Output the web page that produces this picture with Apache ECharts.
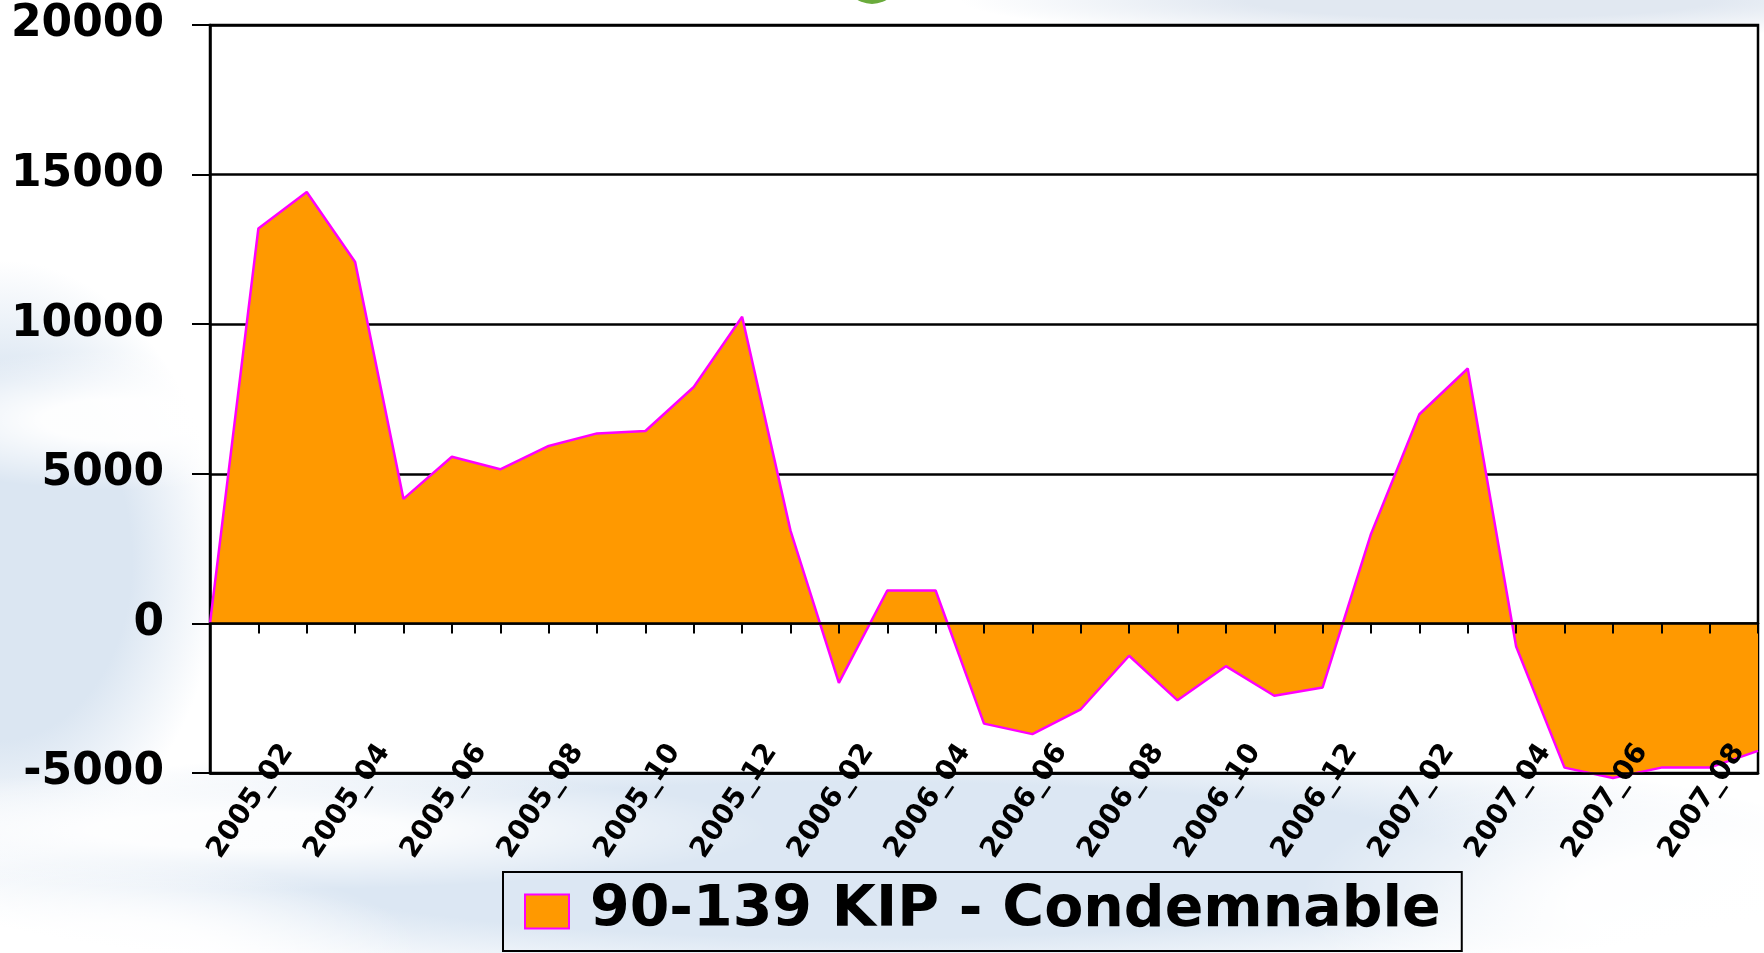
<!DOCTYPE html>
<html>
<head>
<meta charset="utf-8">
<script src="https://cdn.jsdelivr.net/npm/echarts@6/dist/echarts.min.js"></script>
<style>
html,body{margin:0;padding:0;width:1764px;height:953px;overflow:hidden;}
body{
  background-color:#ffffff;
  background-image:
    radial-gradient(ellipse 260px 70px at 120px 420px, rgba(255,255,255,0.95) 30%, rgba(255,255,255,0) 100%),
    radial-gradient(ellipse 520px 60px at 250px 830px, rgba(255,255,255,0.9) 30%, rgba(255,255,255,0) 100%),
    radial-gradient(ellipse 420px 140px at 1720px 900px, rgba(255,255,255,0.95) 35%, rgba(255,255,255,0) 100%),
    radial-gradient(ellipse 300px 90px at 120px 950px, rgba(255,255,255,0.85) 30%, rgba(255,255,255,0) 100%),
    radial-gradient(ellipse 220px 300px at 0px 560px, #dbe6f2 60%, rgba(219,230,242,0) 100%),
    radial-gradient(ellipse 1000px 130px at 860px 860px, #dce7f3 60%, rgba(220,231,243,0) 100%),
    radial-gradient(ellipse 520px 40px at 1480px 0px, #e1e8f1 45%, rgba(225,232,241,0) 100%);
}
#chart{width:1764px;height:953px;}
</style>
</head>
<body>
<div id="chart"></div>
<script>
var categories = ['2005_01','2005_02','2005_03','2005_04','2005_05','2005_06','2005_07','2005_08','2005_09','2005_10','2005_11','2005_12',
                  '2006_01','2006_02','2006_03','2006_04','2006_05','2006_06','2006_07','2006_08','2006_09','2006_10','2006_11','2006_12',
                  '2007_01','2007_02','2007_03','2007_04','2007_05','2007_06','2007_07','2007_08','2007_09'];
var values = [0, 13200, 14420, 12080, 4160, 5570, 5150, 5930, 6350, 6430, 7900, 10250,
              3100, -1990, 1100, 1100, -3350, -3700, -2870, -1080, -2570, -1430, -2420, -2140,
              2990, 6990, 8520, -770, -4820, -5170, -4820, -4820, -4260];
var seriesName = '90-139 KIP - Condemnable';
var yMin = -5000, yMax = 20000, yStep = 5000;

var FONT = 'DejaVu Sans';
var chart = echarts.init(document.getElementById('chart'), null, {renderer:'canvas'});
chart.setOption({
  backgroundColor: 'transparent',
  animation: false,
  graphic: [{
    type: 'circle', shape: {cx: 872, cy: -24, r: 28}, style: {fill: '#6aab3c'}, z: 10
  }],
  grid: {
    left: 210, right: 6, top: 25, bottom: 180,
    show: true, backgroundColor: '#ffffff', borderColor: '#000', borderWidth: 2.5,
    containLabel: false, outerBoundsMode: 'none'
  },
  legend: {
    left: 503, top: 872,
    padding: [11, 21, 11, 21],
    borderColor: '#000', borderWidth: 2,
    backgroundColor: 'transparent',
    itemWidth: 44, itemHeight: 34,
    icon: 'rect',
    itemStyle: {color: '#FF9900', borderColor: '#FF00FF', borderWidth: 2},
    textStyle: {fontFamily: FONT, fontWeight: 'bold', fontSize: 57, color: '#000', padding: [0,0,0,16]},
    data: [seriesName]
  },
  xAxis: [{
    type: 'category', data: categories, boundaryGap: false, z: 5,
    axisLine: {onZero: true, lineStyle: {color: '#000', width: 2.5}},
    axisTick: {show: true, interval: 0, length: 10, inside: false, lineStyle: {color: '#000', width: 2}},
    axisLabel: {show: false},
    splitLine: {show: false}
  }, {
    type: 'category', data: categories, boundaryGap: false, position: 'bottom', z: 5,
    axisLine: {onZero: false, show: true, lineStyle: {color: '#000', width: 2.5}},
    axisTick: {show: false},
    axisLabel: {
      show: true, rotate: 56, align: 'center', verticalAlign: 'middle', margin: 17,
      padding: [0, 27, 0, 0],
      interval: function (i) { return i % 2 === 1; },
      fontFamily: FONT, fontWeight: 'bold', fontSize: 28, color: '#000'
    },
    splitLine: {show: false}
  }],
  yAxis: {
    type: 'value', min: yMin, max: yMax, interval: yStep,
    axisLine: {show: true, lineStyle: {color: '#000', width: 2.5}},
    axisTick: {show: true, length: 18, lineStyle: {color: '#000', width: 2}},
    axisLabel: {margin: 46, fontFamily: FONT, fontWeight: 'bold', fontSize: 44, color: '#000',
      formatter: function (v) { return String(v); }},
    splitLine: {show: true, lineStyle: {color: '#000', width: 2.5}}
  },
  series: [{
    name: seriesName, type: 'line', data: values, xAxisIndex: 0,
    symbol: 'none', showSymbol: false, clip: false, z: 3,
    itemStyle: {color: '#FF9900', borderColor: '#FF00FF'},
    lineStyle: {color: '#FF00FF', width: 2.5},
    areaStyle: {color: '#FF9900', opacity: 1}
  }]
});
</script>
</body>
</html>
